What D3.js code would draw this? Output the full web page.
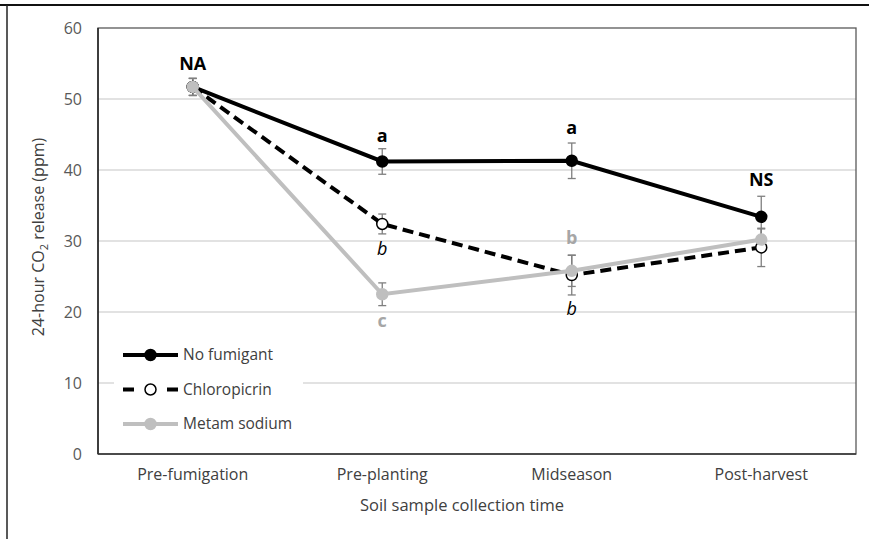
<!DOCTYPE html>
<html>
<head>
<meta charset="utf-8">
<script src="https://cdn.jsdelivr.net/npm/d3@7"></script>
<style>
  body { margin: 0; background: #fff; }
  svg text { font-family: "Open Sans", "DejaVu Sans", sans-serif; }
</style>
</head>
<body>
<div id="chart"></div>
<script>
// categories and series
var times = ["Pre-fumigation", "Pre-planting", "Midseason", "Post-harvest"];
var seriesNames = ["No fumigant", "Chloropicrin", "Metam sodium"];
var noFumigant = [51.7, 41.2, 41.3, 33.4];
var chloropicrin = [51.7, 32.4, 25.2, 29.1];
var metamSodium = [51.7, 22.5, 25.8, 30.2];
var noFumigantErr = [1.2, 1.8, 2.5, 2.9];
var chloropicrinErr = [1.2, 1.4, 2.8, 2.7];
var metamSodiumErr = [1.2, 1.6, 2.2, 1.5];
var yTicks = [0, 10, 20, 30, 40, 50, 60];

// significance letters: time, text, y value, style
var sigTime = ["Pre-fumigation", "Pre-planting", "Pre-planting", "Pre-planting", "Midseason", "Midseason", "Midseason", "Post-harvest"];
var sigText = ["NA", "a", "b", "c", "a", "b", "b", "NS"];
var sigValue = [55.0, 44.9, 28.9, 18.8, 46.0, 30.4, 20.5, 38.7];
var sigStyle = ["bold", "bold", "italic", "boldgray", "bold", "boldgray", "italic", "bold"];

var W = 869, H = 539;
var margin = { top: 28, right: 13, bottom: 85, left: 98 };
var width = W - margin.left - margin.right,
    height = H - margin.top - margin.bottom;

var svg = d3.select("#chart").append("svg")
    .attr("width", W).attr("height", H);

// outer frame remnants (top and left edge of the figure)
svg.append("line").attr("x1", 0).attr("x2", W).attr("y1", 5).attr("y2", 5)
    .attr("stroke", "#111").attr("stroke-width", 2.2);
svg.append("line").attr("x1", 7).attr("x2", 7).attr("y1", 5).attr("y2", H)
    .attr("stroke", "#222").attr("stroke-width", 1.5);

var chart = svg.append("g")
    .attr("transform", "translate(" + margin.left + "," + margin.top + ")");

var x = d3.scaleBand().domain(times).range([0, width]).padding(0);
var y = d3.scaleLinear().domain([0, 60]).range([height, 0]);
var cx = function (t) { return x(t) + x.bandwidth() / 2; };

// gridlines
chart.append("g")
    .selectAll("line")
    .data(yTicks.filter(function (d) { return d > 0 && d < 60; }))
    .enter().append("line")
    .attr("x1", 0).attr("x2", width)
    .attr("y1", function (d) { return y(d); })
    .attr("y2", function (d) { return y(d); })
    .attr("stroke", "#d9d9d9").attr("stroke-width", 1.3);

// y axis
var yAxis = chart.append("g")
    .call(d3.axisLeft(y).tickValues(yTicks).tickSize(0).tickPadding(16));
yAxis.select(".domain").remove();
yAxis.selectAll("text").attr("fill", "#595959").style("font-size", "16px");

// x axis
var xAxis = chart.append("g")
    .attr("transform", "translate(0," + height + ")")
    .call(d3.axisBottom(x).tickSize(0).tickPadding(15));
xAxis.select(".domain").remove();
xAxis.selectAll("text").attr("fill", "#404040").style("font-size", "16px");

// axis titles
svg.append("text")
    .attr("transform", "translate(44," + 237 + ") rotate(-90)")
    .attr("text-anchor", "middle")
    .attr("fill", "#404040")
    .style("font-size", "16px")
    .html('24-hour CO<tspan dy="4" font-size="11">2</tspan><tspan dy="-4"> release (ppm)</tspan>');

svg.append("text")
    .attr("x", 462).attr("y", 511)
    .attr("text-anchor", "middle")
    .attr("fill", "#404040")
    .style("font-size", "16.5px")
    .text("Soil sample collection time");

var series = [
  { name: seriesNames[0], values: noFumigant, err: noFumigantErr, color: "#000", dash: null, fill: "#000" },
  { name: seriesNames[1], values: chloropicrin, err: chloropicrinErr, color: "#000", dash: "11,6", fill: "#fff" },
  { name: seriesNames[2], values: metamSodium, err: metamSodiumErr, color: "#bfbfbf", dash: null, fill: "#bfbfbf" }
];

// error bars
series.forEach(function (s) {
  var g = chart.append("g").attr("stroke", "#7f7f7f").attr("stroke-width", 1.3);
  s.values.forEach(function (v, i) {
    var xc = cx(times[i]);
    var lo = y(v - s.err[i]), hi = y(v + s.err[i]);
    g.append("line").attr("x1", xc).attr("x2", xc).attr("y1", lo).attr("y2", hi);
    g.append("line").attr("x1", xc - 4).attr("x2", xc + 4).attr("y1", lo).attr("y2", lo);
    g.append("line").attr("x1", xc - 4).attr("x2", xc + 4).attr("y1", hi).attr("y2", hi);
  });
});

var line = d3.line()
    .x(function (d, i) { return cx(times[i]); })
    .y(function (d) { return y(d); });

// lines and markers (metam drawn last, on top)
series.forEach(function (s) {
  chart.append("path")
      .datum(s.values)
      .attr("d", line)
      .attr("fill", "none")
      .attr("stroke", s.color)
      .attr("stroke-width", 4)
      .attr("stroke-dasharray", s.dash);
  chart.selectAll(null)
      .data(s.values)
      .enter().append("circle")
      .attr("cx", function (d, i) { return cx(times[i]); })
      .attr("cy", function (d) { return y(d); })
      .attr("r", 5.5)
      .attr("fill", s.fill)
      .attr("stroke", s.color)
      .attr("stroke-width", 1.5);
});

// significance letters
chart.selectAll(".sig")
    .data(sigText)
    .enter().append("text")
    .attr("class", "sig")
    .attr("x", function (d, i) { return cx(sigTime[i]); })
    .attr("y", function (d, i) { return y(sigValue[i]); })
    .attr("dy", "0.35em")
    .attr("text-anchor", "middle")
    .style("font-size", "18px")
    .style("font-weight", function (d, i) { return sigStyle[i] === "italic" ? "normal" : "bold"; })
    .style("font-style", function (d, i) { return sigStyle[i] === "italic" ? "italic" : "normal"; })
    .attr("fill", function (d, i) { return sigStyle[i] === "boldgray" ? "#a6a6a6" : "#000"; })
    .text(function (d) { return d; });

// plot area border
chart.append("rect")
    .attr("x", 0).attr("y", 0).attr("width", width).attr("height", height)
    .attr("fill", "none").attr("stroke", "#595959").attr("stroke-width", 1.3);
chart.append("line")
    .attr("x1", 0).attr("x2", 0).attr("y1", 0).attr("y2", height)
    .attr("stroke", "#222").attr("stroke-width", 1.5);
chart.append("line")
    .attr("x1", 0).attr("x2", width).attr("y1", height).attr("y2", height)
    .attr("stroke", "#333").attr("stroke-width", 1.5);

// legend
var legend = svg.append("g").attr("transform", "translate(114,340)");
legend.append("rect")
    .attr("width", 189).attr("height", 100)
    .attr("fill", "#fff");
series.forEach(function (s, i) {
  var row = legend.append("g").attr("transform", "translate(0," + (15 + i * 34.5) + ")");
  row.append("line")
      .attr("x1", 9).attr("x2", 64).attr("y1", 0).attr("y2", 0)
      .attr("stroke", s.color).attr("stroke-width", 4)
      .attr("stroke-dasharray", s.dash ? "11,33" : null);
  row.append("circle")
      .attr("cx", 36.5).attr("cy", 0).attr("r", 5.5)
      .attr("fill", s.fill).attr("stroke", s.color).attr("stroke-width", 1.5);
  row.append("text")
      .attr("x", 69).attr("y", 0).attr("dy", "0.35em")
      .attr("fill", "#404040")
      .style("font-size", "15.5px")
      .text(s.name);
});
</script>
</body>
</html>
